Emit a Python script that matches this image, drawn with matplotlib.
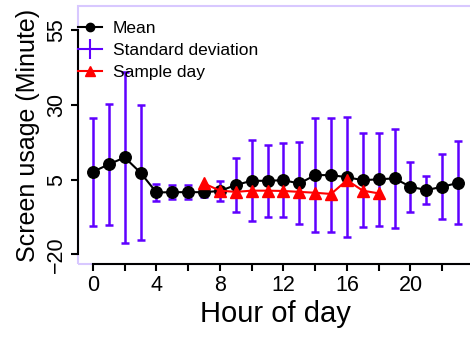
import matplotlib
matplotlib.use('Agg')
import matplotlib.pyplot as plt
from matplotlib.lines import Line2D
from matplotlib.patches import Rectangle

plt.rcParams['font.family'] = ['Liberation Sans', 'DejaVu Sans']

hours = list(range(24))
mean_usage = [7.6, 10.1, 12.4, 7.3, 0.7, 0.8, 0.8, 0.8, 1.2, 3.2, 4.6, 4.6,
              4.8, 3.7, 6.5, 6.5, 5.8, 4.8, 5.1, 5.4, 2.6, 1.5, 2.6, 3.9]
std_usage = [18.1, 20.2, 28.5, 22.6, 2.8, 2.3, 2.3, 1.5, 3.4, 9.1, 13.5, 12.1,
             12.4, 13.7, 19.1, 19.0, 20.1, 15.7, 15.6, 16.5, 8.3, 4.8, 10.8, 13.9]
sample_hours = list(range(7, 19))
sample_usage = [3.7, 1.3, 0.9, 1.3, 1.3, 1.2, 0.9, 0.6, 0.2, 4.8, 1.3, 0.4]

purple = '#5f00ff'
lavender = '#d8c8ff'

fig = plt.figure(figsize=(4.7, 3.39), dpi=100)
# axes run a little past the right edge, like the reference
ax = fig.add_axes([78 / 470, 1 - 264 / 339, (473 - 78) / 470, (264 - 6) / 339])

ax.errorbar(hours, mean_usage, yerr=std_usage, fmt='none', ecolor=purple,
            elinewidth=1.8, capsize=3, capthick=1.8, zorder=2)
ax.plot(hours, mean_usage, '-o', color='black', lw=1.5, ms=8.3, zorder=3)
ax.plot(sample_hours, sample_usage, '-^', color='red', lw=1.5, ms=8.5, zorder=4)

ax.set_xlim(-0.94, 23.94)
ax.set_ylim(-23.2, 63.0)

# light frame behind the R-style axes
ax.add_patch(Rectangle((0, 0), 1, 1, transform=ax.transAxes, fill=False,
                       edgecolor=lavender, lw=1.5, clip_on=False, zorder=0))

for side in ['top', 'right']:
    ax.spines[side].set_visible(False)
for side in ['left', 'bottom']:
    ax.spines[side].set_linewidth(1.5)
    ax.spines[side].set_color('black')
ax.spines['left'].set_bounds(-20, 55)
ax.spines['bottom'].set_bounds(0, 23.94)

ax.set_xticks(range(0, 24, 2))
ax.set_xticklabels([str(h) if h % 4 == 0 else '' for h in range(0, 24, 2)])
ax.set_yticks([-20, 5, 30, 55])
ax.set_yticklabels(['\u221220', '5', '30', '55'], rotation=90, va='center')
ax.tick_params(axis='both', direction='out', length=5, width=1.5,
               labelsize=15.5, pad=3)

ax.set_xlabel('Hour of day', fontsize=21, labelpad=3)
ax.set_ylabel('Screen usage (Minute)', fontsize=18, labelpad=4)

handles = [
    Line2D([], [], color='black', lw=1.5, marker='o', ms=6),
    Line2D([], [], color=purple, lw=1.5, marker='|', ms=14, mew=1.5),
    Line2D([], [], color='red', lw=1.5, marker='^', ms=7),
]
labels = ['Mean', 'Standard deviation', 'Sample day']
ax.legend(handles, labels, loc='upper left', bbox_to_anchor=(78 / 470, 1 - 21 / 339),
          bbox_transform=fig.transFigure, frameon=False, fontsize=12.5,
          handlelength=1.4, handletextpad=0.6, labelspacing=0.4,
          borderpad=0, borderaxespad=0)

fig.savefig('out.png', dpi=100)
